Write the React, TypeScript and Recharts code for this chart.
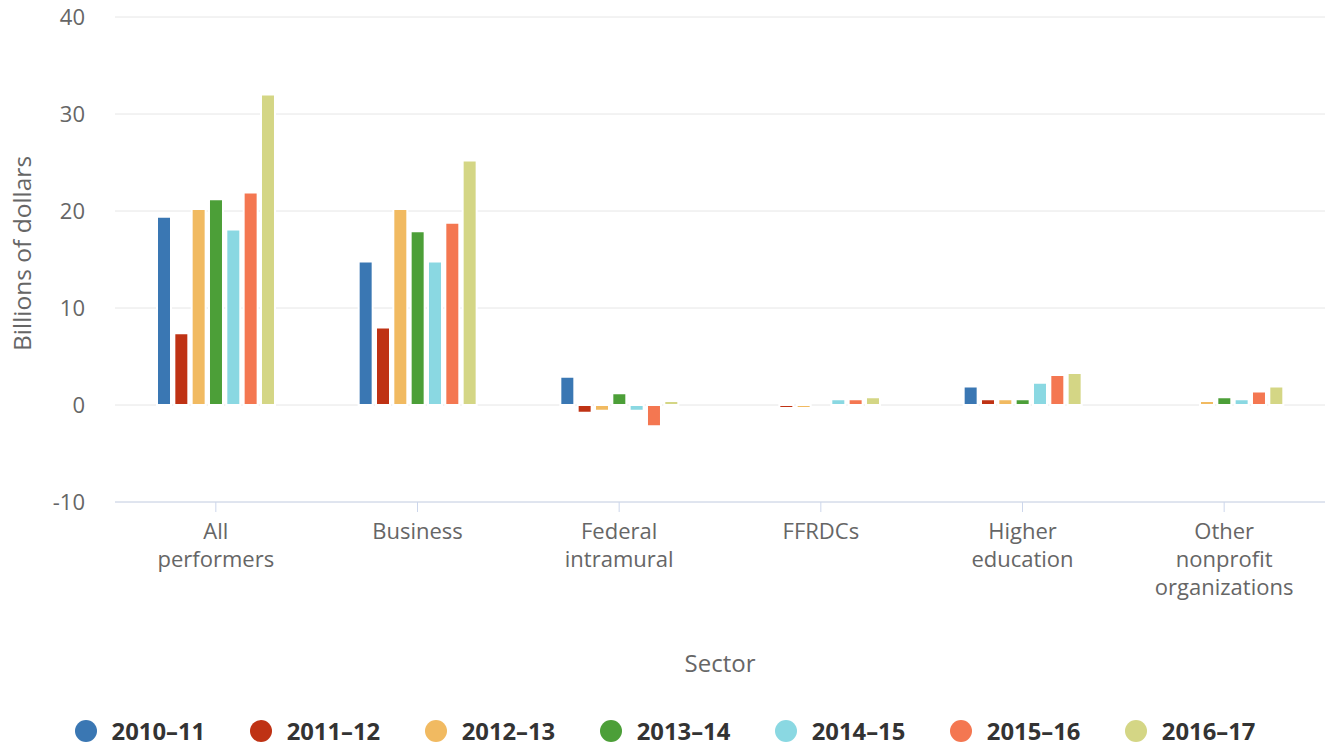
import React from "react";
import { BarChart, Bar, XAxis, YAxis, CartesianGrid, Label } from "recharts";

const categories = [
  "All\nperformers",
  "Business",
  "Federal\nintramural",
  "FFRDCs",
  "Higher\neducation",
  "Other\nnonprofit\norganizations",
];

const seriesNames = ["2010–11", "2011–12", "2012–13", "2013–14", "2014–15", "2015–16", "2016–17"];
const seriesColors = ["#3a77b3", "#bf3214", "#f1ba61", "#4c9f38", "#8ad8e2", "#f47751", "#d4d685"];

const v2010 = [19.4, 14.8, 2.9, 0, 1.9, 0];
const v2011 = [7.4, 8.0, -0.8, -0.3, 0.6, null];
const v2012 = [20.2, 20.2, -0.6, -0.3, 0.6, 0.4];
const v2013 = [21.2, 17.9, 1.2, 0, 0.6, 0.8];
const v2014 = [18.1, 14.8, -0.6, 0.6, 2.3, 0.6];
const v2015 = [21.9, 18.8, -2.2, 0.6, 3.1, 1.4];
const v2016 = [32.0, 25.2, 0.4, 0.8, 3.3, 1.9];

const seriesValues = [v2010, v2011, v2012, v2013, v2014, v2015, v2016];
const yTicks = [-10, 0, 10, 20, 30, 40];

const data = categories.map((c, i) => {
  const row: Record<string, any> = { sector: c };
  seriesNames.forEach((n, k) => {
    row[n] = seriesValues[k][i];
  });
  return row;
});

const FONT = "'Open Sans', sans-serif";

const XTick = (props: any) => {
  const { x, y, payload } = props;
  const lines = String(payload.value).split("\n");
  return (
    <text x={x} y={y + 25} textAnchor="middle" fill="#666666" fontSize={22} fontFamily={FONT}>
      {lines.map((l, i) => (
        <tspan key={i} x={x} dy={i === 0 ? 0 : 28}>
          {l}
        </tspan>
      ))}
    </text>
  );
};

export default function App() {
  return (
    <div style={{ position: "absolute", left: 0, top: 0, width: 1330, height: 748, background: "#fff", fontFamily: FONT }}>
      <BarChart
        width={1330}
        height={748}
        data={data}
        margin={{ top: 17, right: 5, left: 0, bottom: 76 }}
        barSize={14}
        barGap={3.33}
      >
        <CartesianGrid horizontal vertical={false} stroke="#e6e6e6" strokeWidth={1} />
        <XAxis
          dataKey="sector"
          height={170}
          interval={0}
          tick={<XTick />}
          tickSize={10}
          tickLine={{ stroke: "#ccd6eb" }}
          axisLine={{ stroke: "#ccd6eb", strokeWidth: 1 }}
        >
          <Label
            content={(p: any) => {
              const vb = p.viewBox;
              return (
                <text
                  x={vb.x + vb.width / 2}
                  y={vb.y + 160}
                  textAnchor="middle"
                  dominantBaseline="central"
                  fill="#666666"
                  fontSize={24}
                  fontFamily={FONT}
                >
                  Sector
                </text>
              );
            }}
          />
        </XAxis>
        <YAxis
          width={115}
          domain={[-10, 40]}
          ticks={yTicks}
          interval={0}
          tickLine={false}
          axisLine={false}
          tickSize={0}
          tickMargin={30}
          tick={{ fill: "#666666", fontSize: 22, fontFamily: FONT }}
        >
          <Label
            content={(p: any) => {
              const vb = p.viewBox;
              const cx = vb.x + 21;
              const cy = vb.y + vb.height / 2 - 6;
              return (
                <text
                  x={cx}
                  y={cy}
                  transform={`rotate(-90, ${cx}, ${cy})`}
                  textAnchor="middle"
                  dominantBaseline="central"
                  fill="#666666"
                  fontSize={24.5}
                  fontFamily={FONT}
                >
                  Billions of dollars
                </text>
              );
            }}
          />
        </YAxis>
        {seriesNames.map((n, k) => (
          <Bar key={n} dataKey={n} fill={seriesColors[k]} stroke="#ffffff" strokeWidth={2} isAnimationActive={false} />
        ))}
      </BarChart>
      <div
        style={{
          position: "absolute",
          left: 0,
          top: 719,
          width: 1330,
          height: 24,
          display: "flex",
          justifyContent: "center",
          alignItems: "center",
          gap: 44.5,
        }}
      >
        {seriesNames.map((n, k) => (
          <div key={n} style={{ display: "flex", alignItems: "center" }}>
            <span
              style={{
                display: "inline-block",
                width: 22,
                height: 22,
                borderRadius: "50%",
                background: seriesColors[k],
                marginRight: 15,
              }}
            />
            <span style={{ fontSize: 23.8, fontWeight: 700, color: "#333333", fontFamily: FONT, lineHeight: "24px" }}>{n}</span>
          </div>
        ))}
      </div>
    </div>
  );
}
